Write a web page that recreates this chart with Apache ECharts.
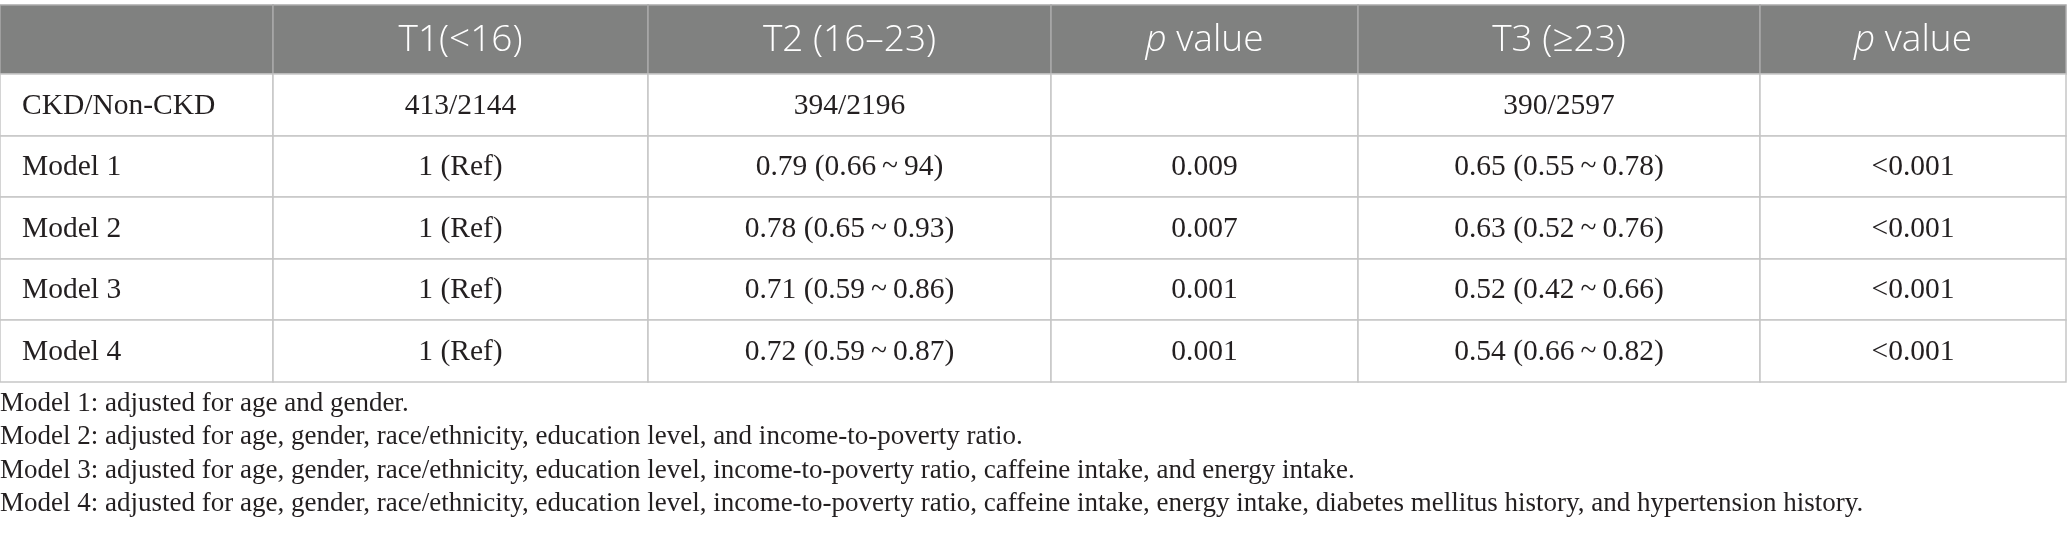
<!DOCTYPE html>
<html><head><meta charset="utf-8">
<script src="https://cdn.jsdelivr.net/npm/echarts@6/dist/echarts.min.js"></script>
<style>html,body{margin:0;padding:0;background:#fff}#c{width:2067px;height:544px}</style>
</head><body><div id="c"></div>
<script>
// ---- data ----
const headers = ['', 'T1(<16)', 'T2 (16\u201323)', '{i|p} value', 'T3 (\u226523)', '{i|p} value'];
const rowLabels = ['CKD/Non-CKD', 'Model 1', 'Model 2', 'Model 3', 'Model 4'];
const t1Values = ['413/2144', '1 (Ref)', '1 (Ref)', '1 (Ref)', '1 (Ref)'];
const t2Values = ['394/2196', '0.79 (0.66\u2009~\u200994)', '0.78 (0.65\u2009~\u20090.93)', '0.71 (0.59\u2009~\u20090.86)', '0.72 (0.59\u2009~\u20090.87)'];
const t2PValues = ['', '0.009', '0.007', '0.001', '0.001'];
const t3Values = ['390/2597', '0.65 (0.55\u2009~\u20090.78)', '0.63 (0.52\u2009~\u20090.76)', '0.52 (0.42\u2009~\u20090.66)', '0.54 (0.66\u2009~\u20090.82)'];
const t3PValues = ['', '<0.001', '<0.001', '<0.001', '<0.001'];
const notes = [
  'Model 1: adjusted for age and gender.',
  'Model 2: adjusted for age, gender, race/ethnicity, education level, and income-to-poverty ratio.',
  'Model 3: adjusted for age, gender, race/ethnicity, education level, income-to-poverty ratio, caffeine intake, and energy intake.',
  'Model 4: adjusted for age, gender, race/ethnicity, education level, income-to-poverty ratio, caffeine intake, energy intake, diabetes mellitus history, and hypertension history.'
];

// ---- layout (not data) ----
const colEdges = [0, 273, 648, 1051, 1358, 1760, 2066];
const rowEdges = [0, 69, 131, 192, 254, 315, 377];

const columnsData = [rowLabels, t1Values, t2Values, t2PValues, t3Values, t3PValues];
const cells = [];
for (let c = 0; c < headers.length; c++) {
  cells.push({ value: [c, 0], text: headers[c], header: true });
  for (let r = 0; r < rowLabels.length; r++) {
    cells.push({ value: [c, r + 1], text: columnsData[c][r], header: false });
  }
}

const chart = echarts.init(document.getElementById('c'), null, { renderer: 'canvas' });
chart.setOption({
  backgroundColor: '#ffffff',
  animation: false,
  title: {
    text: notes.join('\n'),
    left: 0, top: 387,
    padding: 0,
    textStyle: { fontFamily: 'Liberation Serif', fontSize: 27, lineHeight: 33.5, fontWeight: 'normal', color: '#231f20' }
  },
  grid: { left: 0, top: 5, width: 2066, height: 377 },
  xAxis: { type: 'value', min: 0, max: 2066, show: false },
  yAxis: { type: 'value', min: 0, max: 377, inverse: true, show: false },
  series: [{
    type: 'custom',
    coordinateSystem: 'cartesian2d',
    data: cells.map(d => d.value),
    renderItem: function (params, api) {
      const cell = cells[params.dataIndex];
      const c = api.value(0), r = api.value(1);
      const p0 = api.coord([colEdges[c], rowEdges[r]]);
      const p1 = api.coord([colEdges[c + 1], rowEdges[r + 1]]);
      const x = p0[0], y = p0[1], w = p1[0] - p0[0], h = p1[1] - p0[1];
      const left = (c === 0 && !cell.header);
      const children = [{
        type: 'rect',
        shape: { x: x, y: y, width: w, height: h },
        style: cell.header
          ? { fill: '#808180', stroke: '#a9a9a9', lineWidth: 1.5 }
          : { fill: '#ffffff', stroke: '#c6c6c6', lineWidth: 1.5 }
      }];
      if (cell.text) {
        children.push({
          type: 'text',
          style: {
            text: cell.text,
            x: left ? x + 22 : x + w / 2,
            y: y + h / 2 + (cell.header ? 1 : 1),
            align: left ? 'left' : 'center',
            verticalAlign: 'middle',
            fill: cell.header ? '#ffffff' : '#231f20',
            fontFamily: cell.header ? 'Open Sans' : 'Liberation Serif',
            fontSize: cell.header ? 37 : 29.5,
            fontWeight: cell.header ? 300 : 'normal',
            rich: cell.header ? { i: { fontStyle: 'italic', fontFamily: 'Open Sans', fontSize: 37, fontWeight: 300, fill: '#ffffff' } } : undefined
          }
        });
      }
      return { type: 'group', children: children };
    }
  }]
});
</script>
</body></html>
